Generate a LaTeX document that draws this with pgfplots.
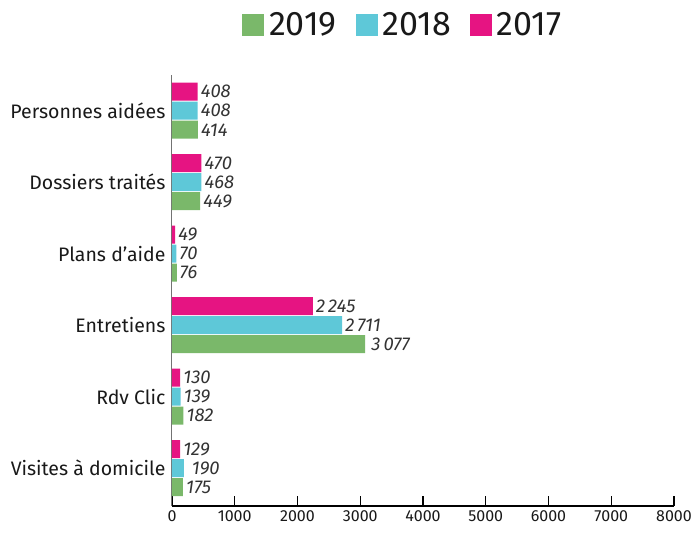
\documentclass[border=0pt]{standalone}
\usepackage{fontspec}
\setmainfont{Fira Sans}
\usepackage{pgfplots}
\pgfplotsset{compat=1.18}
\definecolor{c19}{RGB}{122,184,106}
\definecolor{c18}{RGB}{94,200,216}
\definecolor{c17}{RGB}{230,20,130}
\begin{document}
\begin{tikzpicture}
\useasboundingbox (-172pt,-28pt) rectangle (519pt,506pt);
\begin{axis}[
  at={(0,0)}, anchor=south west,
  scale only axis, width=502pt, height=431pt,
  xbar, bar width=18pt,
  xmin=0, xmax=8000, ymin=-0.53, ymax=5.5,
  axis x line*=bottom, axis y line*=left,
  x axis line style={-, black, line width=1.2pt},
  y axis line style={-, black!55, line width=1pt},
  xtick={0,1000,...,8000}, scaled x ticks=false,
  tick align=inside, major tick length=10pt,
  xtick style={black, line width=1.2pt},
  ytick={0,...,5},
  yticklabels={Visites à domicile, Rdv Clic, Entretiens, Plans d’aide, Dossiers traités, Personnes aidées},
  ytick style={draw=none},
  y tick label style={font=\fontsize{19.5}{22}\selectfont, text=black!90, xshift=-3pt},
  x tick label style={font=\fontsize{16}{19}\selectfont, text=black!90, yshift=-1pt},
  /pgf/number format/assume math mode=true,
  /pgf/number format/1000 sep={},
  legend style={at={(0.46,1.116)}, anchor=center, draw=none, fill=none,
    legend columns=3, font=\fontsize{34}{38}\selectfont, text=black!90,
    /tikz/every even column/.append style={column sep=17pt},
    /tikz/every odd column/.append style={column sep=3pt}},
  legend image code/.code={\fill[#1] (0pt,-11pt) rectangle (22pt,11pt);},
  nodes near coords, point meta=explicit symbolic,
  every node near coord/.append style={anchor=west, font=\fontsize{18.5}{21}\selectfont\itshape, text=black!80, inner sep=3pt},
  clip=false,
]
\addplot[fill=c19, draw=none, bar shift=-19pt] coordinates {
  (175,0) [175] (182,1) [182] (3077,2) [\,3\,077] (76,3) [76] (449,4) [449] (414,5) [414]};
\addplot[fill=c18, draw=none, bar shift=0pt] coordinates {
  (190,0) [\ 190] (139,1) [139] (2711,2) [2\,711] (70,3) [70] (468,4) [468] (408,5) [408]};
\addplot[fill=c17, draw=none, bar shift=19pt] coordinates {
  (129,0) [129] (130,1) [130] (2245,2) [2\,245] (49,3) [49] (470,4) [470] (408,5) [408]};
\legend{2019, 2018, 2017}
\end{axis}
\end{tikzpicture}
\end{document}
